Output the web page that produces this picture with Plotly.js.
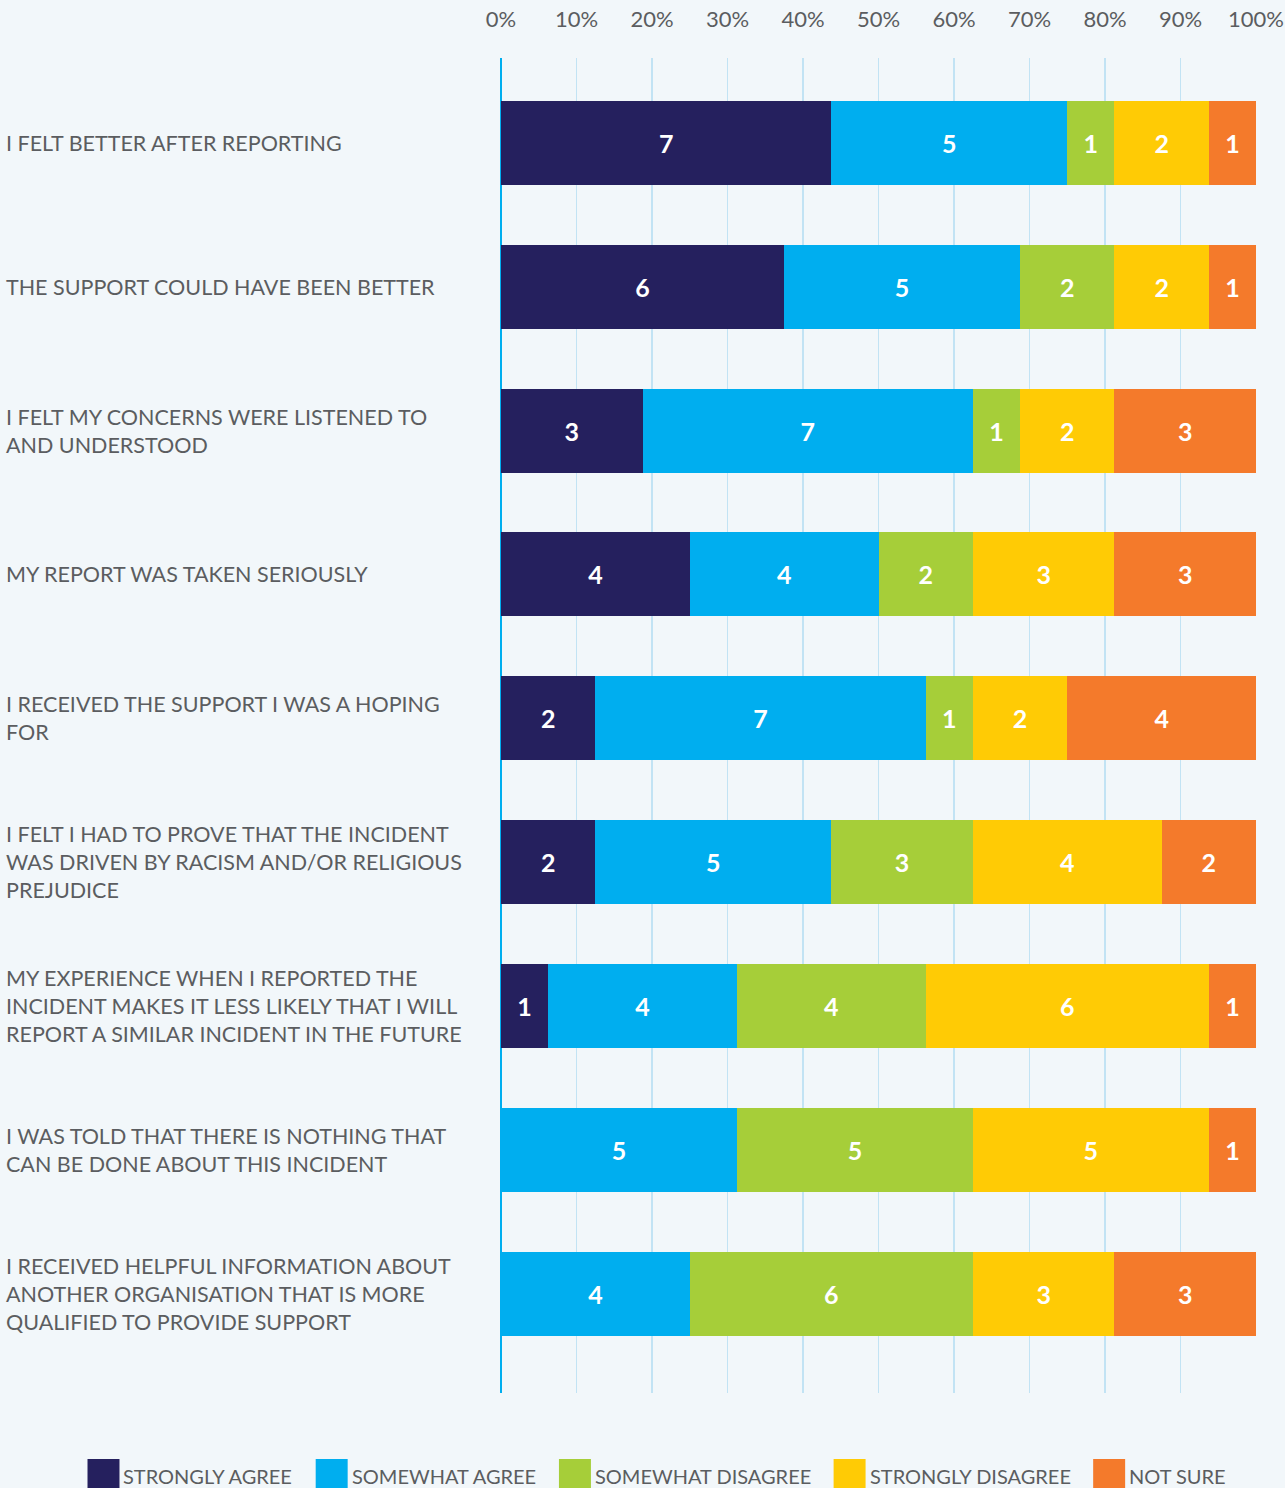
<!DOCTYPE html>
<html>
<head>
<meta charset="utf-8">
<script src="https://cdn.plot.ly/plotly-3.0.1.min.js"></script>
<style>
  html, body { margin: 0; padding: 0; background: #f2f7fa; }
  #chart { width: 1285px; height: 1488px; }
</style>
</head>
<body>
<div id="chart"></div>
<script>
// ---- DATA ----
const categories = [
  "I FELT BETTER AFTER REPORTING",
  "THE SUPPORT COULD HAVE BEEN BETTER",
  "I FELT MY CONCERNS WERE LISTENED TO<br>AND UNDERSTOOD",
  "MY REPORT WAS TAKEN SERIOUSLY",
  "I RECEIVED THE SUPPORT I WAS A HOPING<br>FOR",
  "I FELT I HAD TO PROVE THAT THE INCIDENT<br>WAS DRIVEN BY RACISM AND/OR RELIGIOUS<br>PREJUDICE",
  "MY EXPERIENCE WHEN I REPORTED THE<br>INCIDENT MAKES IT LESS LIKELY THAT I WILL<br>REPORT A SIMILAR INCIDENT IN THE FUTURE",
  "I WAS TOLD THAT THERE IS NOTHING THAT<br>CAN BE DONE ABOUT THIS INCIDENT",
  "I RECEIVED HELPFUL INFORMATION ABOUT<br>ANOTHER ORGANISATION THAT IS MORE<br>QUALIFIED TO PROVIDE SUPPORT"
];
const seriesNames = ["STRONGLY AGREE", "SOMEWHAT AGREE", "SOMEWHAT DISAGREE", "STRONGLY DISAGREE", "NOT SURE"];
const stronglyAgree     = [7, 6, 3, 4, 2, 2, 1, 0, 0];
const somewhatAgree     = [5, 5, 7, 4, 7, 5, 4, 5, 4];
const somewhatDisagree  = [1, 2, 1, 2, 1, 3, 4, 5, 6];
const stronglyDisagree  = [2, 2, 2, 3, 2, 4, 6, 5, 3];
const notSure           = [1, 1, 3, 3, 4, 2, 1, 1, 3];
const tickValues = [0, 10, 20, 30, 40, 50, 60, 70, 80, 90, 100];

// ---- STYLE ----
const seriesColors = ["#25205e", "#00aeef", "#a6ce39", "#ffcb05", "#f47a2b"];
const FONT = "Lato, 'Open Sans', sans-serif";
const TEXT_COLOR = "#5b5d60";
const BG = "#f2f7fa";

const W = 1285, H = 1488;
const M = { l: 500.5, r: 29, t: 58, b: 95 };
const plotW = W - M.l - M.r, plotH = H - M.t - M.b;

const seriesValues = [stronglyAgree, somewhatAgree, somewhatDisagree, stronglyDisagree, notSure];

const traces = seriesValues.map((vals, i) => ({
  type: "bar",
  orientation: "h",
  name: seriesNames[i],
  y: categories,
  x: vals,
  text: vals.map(v => v > 0 ? String(v) : ""),
  textposition: "inside",
  insidetextanchor: "middle",
  constraintext: "none",
  textfont: { family: FONT, size: 25, color: "#ffffff", weight: 700 },
  marker: { color: seriesColors[i], line: { width: 0 } },
  showlegend: false,
  hoverinfo: "skip"
}));

// Category labels (left aligned) as annotations
const annotations = categories.map(c => ({
  text: c,
  xref: "paper", yref: "y",
  x: (3 - M.l) / plotW,
  y: c,
  xanchor: "left", yanchor: "middle",
  align: "left",
  showarrow: false,
  font: { family: FONT, size: 21.5, color: TEXT_COLOR }
}));

// Custom legend built from series names/colors
const shapes = [];
const canvas = document.createElement("canvas");
const ctx = canvas.getContext("2d");
const LEG_SIZE = 20;
ctx.font = LEG_SIZE + "px Lato";
const sq = 32, gapIn = 4, gapOut = 22;
const widths = seriesNames.map(n => ctx.measureText(n).width);
const total = widths.reduce((a, w) => a + sq + gapIn + w, 0) + gapOut * (seriesNames.length - 1);
let px = 656.5 - total / 2;
const toPX = p => (p - M.l) / plotW;
const toPY = p => (H - M.b - p) / plotH;
seriesNames.forEach((n, i) => {
  shapes.push({
    type: "rect", xref: "paper", yref: "paper",
    x0: toPX(px), x1: toPX(px + sq),
    y0: toPY(1459), y1: toPY(1491),
    fillcolor: seriesColors[i], line: { width: 0 }, layer: "above"
  });
  annotations.push({
    text: n, xref: "paper", yref: "paper",
    x: toPX(px + sq + gapIn - 2), y: toPY(1476),
    xanchor: "left", yanchor: "middle", showarrow: false,
    font: { family: FONT, size: LEG_SIZE, color: TEXT_COLOR }
  });
  px += sq + gapIn + widths[i] + gapOut;
});

const layout = {
  width: W, height: H,
  margin: M,
  paper_bgcolor: BG,
  plot_bgcolor: BG,
  barmode: "stack",
  barnorm: "percent",
  bargap: 0.416,
  hovermode: false,
  showlegend: false,
  font: { family: FONT, color: TEXT_COLOR },
  xaxis: {
    side: "top",
    range: [0, 100],
    tickvals: tickValues,
    ticktext: tickValues.map(v => v + "%"),
    ticks: "",
    ticklabelstandoff: 26,
    tickfont: { family: FONT, size: 22, color: TEXT_COLOR },
    showgrid: true,
    gridcolor: "#c2e3f4",
    gridwidth: 1.5,
    zeroline: true,
    zerolinecolor: "#00aeef",
    zerolinewidth: 2.5,
    showline: false,
    fixedrange: true
  },
  yaxis: {
    type: "category",
    categoryorder: "array",
    categoryarray: categories,
    range: [8.69, -0.59],
    showticklabels: false,
    showgrid: false,
    zeroline: false,
    showline: false,
    ticks: "",
    fixedrange: true
  },
  annotations: annotations,
  shapes: shapes
};

Plotly.newPlot("chart", traces, layout, { displayModeBar: false, staticPlot: true });
</script>
</body>
</html>
